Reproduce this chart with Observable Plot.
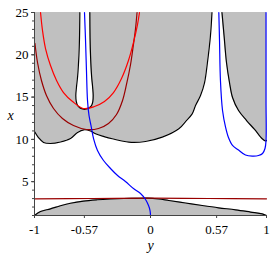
<!DOCTYPE html>
<html><head><meta charset="utf-8">
<script src="https://cdn.jsdelivr.net/npm/d3@7"></script>
<script src="https://cdn.jsdelivr.net/npm/@observablehq/plot@0.6"></script>
<style>body{margin:0;background:#fff;} svg{display:block} #chart svg, #chart svg text{font-family:'Liberation Serif','Times New Roman',serif !important;}</style>
</head><body><div id="chart"></div>
<script>
// axes
const xDomain = [-1, 1];
const yDomain = [1, 25];
const xTicks = [-1, -0.57, 0, 0.57, 1];
const xTickLabels = ["-1", "-0.57", "0", "0.57", "1"];
const yTicks = [5, 10, 15, 20, 25];
const yMinorTicks = d3.range(1, 26);

// upper grey region: lower boundary (left piece), y-values and x-values
const upperLeftY = [-1, -0.966, -0.922, -0.862, -0.776, -0.69, -0.629, -0.575, -0.517, -0.474, -0.40, -0.33, -0.187, -0.043, 0.101, 0.244, 0.302, 0.359, 0.388, 0.431, 0.466, 0.491, 0.517, 0.530];
const upperLeftX = [10.93, 10.22, 9.63, 9.51, 9.69, 10.10, 10.81, 11.13, 10.99, 10.66, 10.33, 10.07, 9.67, 9.75, 10.26, 11.25, 12.11, 13.02, 14.0, 15.19, 16.72, 19.09, 22.28, 25];
// upper grey region: right piece
const upperRightY = [0.616, 0.634, 0.655, 0.681, 0.707, 0.759, 0.828, 0.897, 0.963, 0.991, 1];
const upperRightX = [25, 22.28, 19.09, 16.72, 14.95, 13.41, 12.23, 11.17, 10.07, 9.81, 9.87];
// white hole near y = -0.57
const holeX = [25, 22, 19.92, 17.5, 16.2, 15.2, 14.5, 14.0, 13.75, 13.6];
const holeLeft = [-0.609, -0.612, -0.617, -0.628, -0.638, -0.644, -0.640, -0.628, -0.61, -0.585];
const holeRight = [-0.523, -0.521, -0.517, -0.508, -0.499, -0.494, -0.497, -0.508, -0.527, -0.552];
const holeBottom = {y: -0.568, x: 13.55};
// lower grey region boundary
const lowerY = [-1, -0.948, -0.862, -0.776, -0.69, -0.578, -0.459, -0.345, -0.23, -0.129, -0.026, 0.069, 0.158, 0.302, 0.446, 0.586, 0.733, 0.862, 0.963, 1];
const lowerX = [1.0, 1.47, 1.79, 2.15, 2.45, 2.71, 2.86, 2.95, 3.01, 3.03, 3.05, 2.95, 2.77, 2.48, 2.18, 1.91, 1.67, 1.41, 1.20, 1.0];
// dark red nearly flat curve
const flatY = [-1, -0.5, 0, 0.5, 1];
const flatX = [2.97, 3.01, 3.05, 3.01, 2.97];
// red U curve
const redY = [-0.948, -0.931, -0.905, -0.862, -0.81, -0.75, -0.672, -0.578, -0.483, -0.397, -0.319, -0.25, -0.19, -0.147, -0.112, -0.095];
const redX = [25, 22.87, 20.74, 18.73, 16.96, 15.54, 14.48, 13.65, 13.89, 14.48, 15.54, 17.20, 19.33, 21.45, 23.58, 25];
// dark red U curve
const darkRedY = [-0.996, -0.974, -0.94, -0.897, -0.836, -0.759, -0.664, -0.552, -0.448, -0.362, -0.293, -0.241, -0.207, -0.172, -0.147, -0.129, -0.116];
const darkRedX = [21.34, 19.09, 16.96, 15.19, 13.65, 12.47, 11.64, 11.17, 11.29, 11.88, 12.94, 14.60, 16.49, 18.85, 21.22, 23.11, 25];
// blue curves
const blue1Y = [-0.569, -0.56, -0.552, -0.543, -0.53, -0.513, -0.491, -0.457, -0.405, -0.345, -0.284, -0.216, -0.147, -0.086, -0.043, -0.017, -0.004, 0];
const blue1X = [25, 21.69, 18.14, 14.60, 12.82, 11.64, 10.10, 8.69, 7.50, 6.56, 5.73, 5.02, 4.19, 3.60, 2.89, 2.18, 1.59, 1.0];
const blue2Y = [0.589, 0.595, 0.603, 0.621, 0.647, 0.672, 0.707, 0.759, 0.819, 0.879, 0.931, 0.966, 0.987, 0.996, 0.996, 0.996];
const blue2X = [25, 21.69, 16.96, 13.41, 11.44, 10.22, 9.28, 8.74, 8.15, 8.03, 8.09, 8.33, 8.92, 9.87, 14.6, 25];

const rows = (ys, xs) => ys.map((y, i) => ({y, x: xs[i]}));
const gray = "#c0c0c0";
const yTop = yDomain[1], yBottom = yDomain[0];
const holeRows = holeX.map((x, i) => ({x, l: holeLeft[i], r: holeRight[i]}));
const holeOutline = [
  ...holeX.map((x, i) => ({y: holeLeft[i], x})),
  holeBottom,
  ...holeX.map((x, i) => ({y: holeRight[i], x})).reverse()
];
const cr = "catmull-rom";

const chart = Plot.plot({
  width: 273, height: 259,
  marginLeft: 34, marginRight: 7, marginTop: 12, marginBottom: 44,
  style: {fontFamily: "'Liberation Serif', 'Times New Roman', serif", fontSize: "12px", background: "white", color: "black"},
  x: {domain: xDomain},
  y: {domain: yDomain},
  marks: [
    Plot.areaY(rows(upperLeftY, upperLeftX), {x: "y", y1: "x", y2: yTop, fill: gray, curve: cr}),
    Plot.areaY(rows(upperRightY, upperRightX), {x: "y", y1: "x", y2: yTop, fill: gray, curve: cr}),
    Plot.areaX(holeRows, {y: "x", x1: "l", x2: "r", fill: "white", curve: cr}),
    Plot.areaY(rows(lowerY, lowerX), {x: "y", y1: yBottom, y2: "x", fill: gray, curve: cr}),
    Plot.line(rows(upperLeftY, upperLeftX), {x: "y", y: "x", stroke: "black", strokeWidth: 1.2, curve: cr}),
    Plot.line(rows(upperRightY, upperRightX), {x: "y", y: "x", stroke: "black", strokeWidth: 1.2, curve: cr}),
    Plot.line(holeOutline, {x: "y", y: "x", stroke: "black", strokeWidth: 1.2, curve: cr}),
    Plot.line(rows(lowerY, lowerX), {x: "y", y: "x", stroke: "black", strokeWidth: 1.2, curve: cr}),
    Plot.line(rows(flatY, flatX), {x: "y", y: "x", stroke: "#990000", strokeWidth: 1.2, curve: cr}),
    Plot.line(rows(darkRedY, darkRedX), {x: "y", y: "x", stroke: "#990000", strokeWidth: 1.2, curve: cr}),
    Plot.line(rows(redY, redX), {x: "y", y: "x", stroke: "#ff0000", strokeWidth: 1.2, curve: cr}),
    Plot.line(rows(blue1Y, blue1X), {x: "y", y: "x", stroke: "#0000ff", strokeWidth: 1.2, curve: cr}),
    Plot.line(rows(blue2Y, blue2X), {x: "y", y: "x", stroke: "#0000ff", strokeWidth: 1.2, curve: cr}),
    Plot.ruleX([xDomain[0]], {stroke: "#444"}),
    Plot.ruleY([yDomain[0]], {stroke: "#444"}),
    Plot.axisY({ticks: yMinorTicks, tickSize: 2, tickFormat: () => "", label: null, stroke: "#444"}),
    Plot.axisY({ticks: yTicks, tickSize: 3, tickPadding: 3, label: null, stroke: "#444", fontSize: 13}),
    Plot.axisX({ticks: xTicks, tickFormat: (d, i) => xTickLabels[i], tickSize: 3, tickPadding: 6, label: null, stroke: "#444", fontSize: 13}),
    Plot.text(["x"], {frameAnchor: "left", dx: -27, dy: 1.5, fontStyle: "italic", fontSize: 14}),
    Plot.text(["y"], {frameAnchor: "bottom", dy: 34, fontStyle: "italic", fontSize: 14})
  ]
});
document.getElementById("chart").appendChild(chart);
</script>
</body></html>
